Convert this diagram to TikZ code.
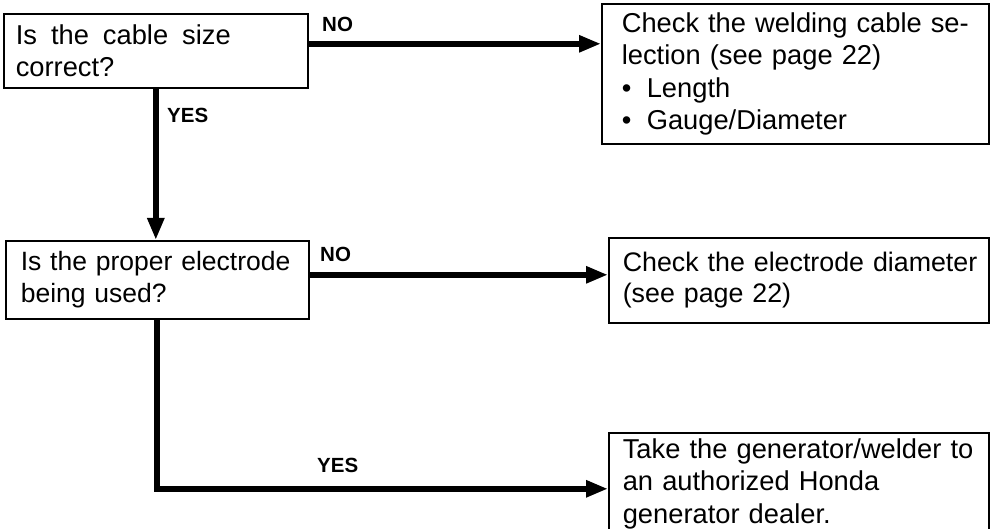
\documentclass[tikz,border=0pt]{standalone}
\usepackage{fontspec}
\setmainfont{Liberation Sans}
\usetikzlibrary{arrows.meta}
\begin{document}
\begin{tikzpicture}[x=1pt,y=-1pt,
  box/.style={draw, line width=1.6pt, anchor=north west, align=left, inner ysep=0pt,
    font=\fontsize{27.3}{32.5}\selectfont},
  arr/.style={line width=6pt, -{Triangle[length=22pt,width=16pt]}},
  lbl/.style={font=\fontsize{20.5}{24}\bfseries\selectfont, inner sep=0pt, anchor=west}]
\useasboundingbox (0,0) rectangle (993,529);
\clip (0,0) rectangle (993,529);
\node[box, inner xsep=12pt, text width=280pt, minimum height=74pt] (b1) at (3,13)
  {\hbox to 215pt{Is\hfill the\hfill cable\hfill size}\\\mbox{correct?}};
\node[box, inner xsep=20pt, text width=347pt, minimum height=140pt] (b2) at (601,3)
  {\hbox to 347pt{Check\hfill the\hfill welding\hfill cable\hfill se-}\\\mbox{lection (see page 22)}\\\mbox{\makebox[25pt][l]{•}Length}\\\mbox{\makebox[25pt][l]{•}Gauge/Diameter}};
\node[box, inner xsep=15pt, text width=273pt, minimum height=78pt,
  font=\fontsize{26.5}{32}\selectfont] (b3) at (5,240)
  {\mbox{Is the proper electrode}\\\mbox{being used?}};
\node[box, inner xsep=14pt, text width=352pt, minimum height=85pt,
  font=\fontsize{26.8}{31}\selectfont] (b4) at (608,237)
  {\mbox{Check the electrode diameter}\\\mbox{(see page 22)}};
\node[box, inner xsep=14pt, text width=352pt, minimum height=102pt] (b5) at (608,432)
  {\mbox{Take the generator/welder to}\\\mbox{an authorized Honda}\\\mbox{generator dealer.}};
\draw[arr] ([yshift=7pt]b1.east) -- ([yshift=7pt]b1.east -| b2.west);
\draw[arr] (b1.south) -- (b1.south |- b3.north);
\draw[arr] ([yshift=5pt]b3.east) -- ([yshift=5pt]b3.east -| b4.west);
\draw[arr] (b3.south) |- ([yshift=-5pt]b5.west);
\node[lbl] (no1) at (322,24) {NO};
\node[lbl] (yes1) at (167,115) {YES};
\node[lbl] (no2) at (320,254) {NO};
\node[lbl] (yes2) at (317,465) {YES};
\end{tikzpicture}
\end{document}
